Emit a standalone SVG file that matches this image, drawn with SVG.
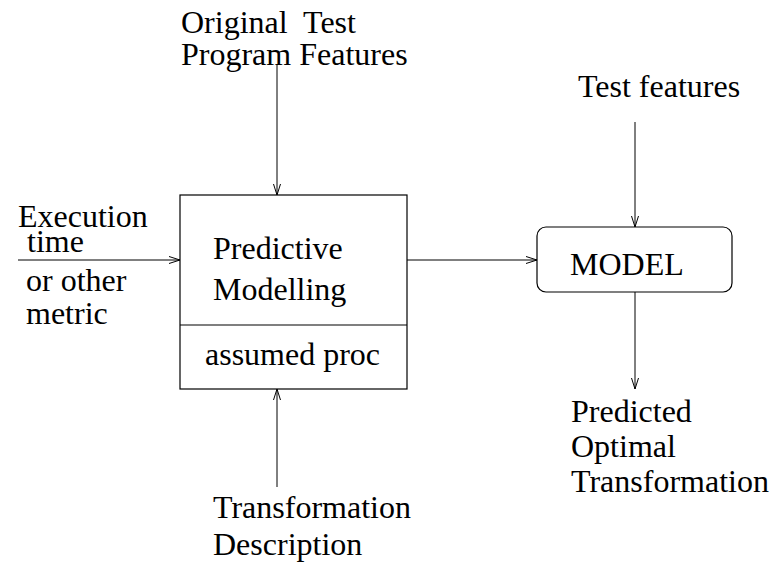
<svg xmlns="http://www.w3.org/2000/svg" width="776" height="562" viewBox="0 0 776 562">
<style>
text{font-family:"Liberation Serif","Times New Roman",serif;font-size:32px;fill:#000}
.box{fill:none;stroke:#000;stroke-width:1.2}
.ln{fill:none;stroke:#000;stroke-width:1}
</style>
<defs>
<marker id="ah" markerWidth="12" markerHeight="8" refX="11" refY="4" orient="auto" markerUnits="userSpaceOnUse">
<path d="M0,0.5 L11,4 L0,7.5" fill="none" stroke="#000" stroke-width="1"/>
</marker>
</defs>
<rect width="776" height="562" fill="#fff"/>
<g id="connectors">
<line class="ln" x1="277" y1="65" x2="277" y2="195" marker-end="url(#ah)"/>
<line class="ln" x1="18" y1="260" x2="180" y2="260" marker-end="url(#ah)"/>
<line class="ln" x1="277" y1="487" x2="277" y2="389" marker-end="url(#ah)"/>
<line class="ln" x1="407" y1="260" x2="537" y2="260" marker-end="url(#ah)"/>
<line class="ln" x1="635" y1="122" x2="635" y2="227" marker-end="url(#ah)"/>
<line class="ln" x1="635" y1="292" x2="635" y2="389" marker-end="url(#ah)"/>
</g>
<g id="predictive">
<rect class="box" x="180" y="195" width="227" height="194"/>
<line class="box" x1="180" y1="325" x2="407" y2="325"/>
<text x="213" y="259">Predictive</text>
<text x="213" y="300">Modelling</text>
<text x="205" y="365">assumed proc</text>
</g>
<g id="model">
<rect class="box" x="537" y="227" width="195" height="65" rx="9" ry="9"/>
<text x="570" y="275">MODEL</text>
</g>
<g id="label-original">
<text x="181" y="33" xml:space="preserve">Original  Test</text>
<text x="181" y="65">Program Features</text>
</g>
<g id="label-execution">
<text x="18" y="227">Execution</text>
<text x="27" y="252">time</text>
<text x="26" y="291">or other</text>
<text x="26" y="324">metric</text>
</g>
<g id="label-transformation">
<text x="213" y="518">Transformation</text>
<text x="213" y="555">Description</text>
</g>
<g id="label-test">
<text x="578" y="97">Test features</text>
</g>
<g id="label-predicted">
<text x="571" y="422">Predicted</text>
<text x="571" y="457">Optimal</text>
<text x="571" y="492">Transformation</text>
</g>
</svg>
